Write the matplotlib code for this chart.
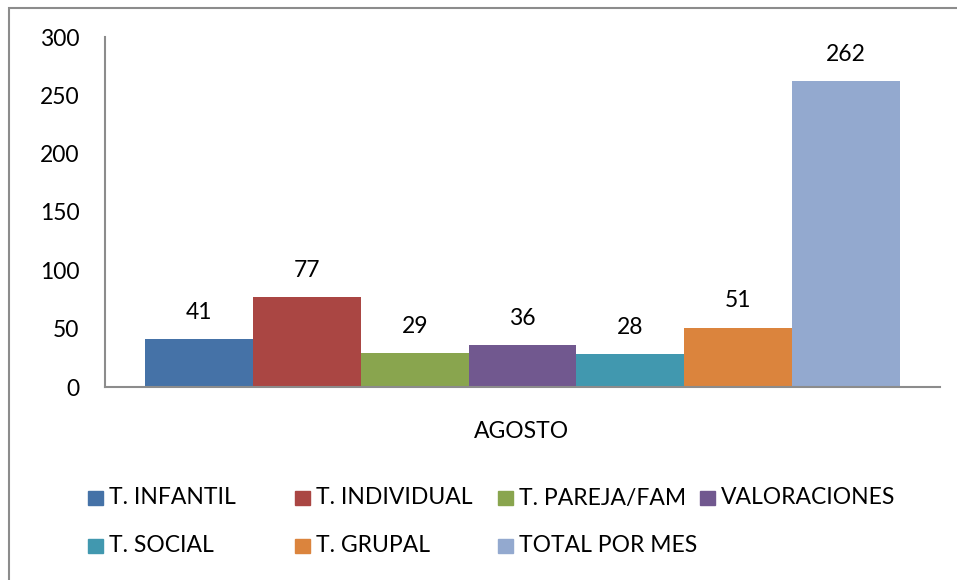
import matplotlib.pyplot as plt
from matplotlib.patches import Rectangle

series = ["T. INFANTIL", "T. INDIVIDUAL", "T. PAREJA/FAM", "VALORACIONES",
          "T. SOCIAL", "T. GRUPAL", "TOTAL POR MES"]
values = [41, 77, 29, 36, 28, 51, 262]
colors = ["#4572A7", "#AA4643", "#89A54E", "#71588F", "#4198AF", "#DB843D", "#93A9CF"]
category = "AGOSTO"
yticks = [0, 50, 100, 150, 200, 250, 300]

plt.rcParams['font.family'] = ['Lato', 'DejaVu Sans']
FS = 16.5

W, H = 957, 580
fig = plt.figure(figsize=(W / 100, H / 100), dpi=100)

# chart area border (runs off the right and bottom edges)
fig.patches.append(Rectangle((9 / W, 0 - 0.05), 1.2, 1 - 8 / H + 0.05,
                             transform=fig.transFigure, fill=False,
                             edgecolor="#8c8c8c", linewidth=1.5))

ax = fig.add_axes([105 / W, 1 - 387 / H, 835 / W, 350 / H])

n = len(values)
gap = 40 / 107.9  # side gap relative to bar width
for i, (v, c) in enumerate(zip(values, colors)):
    ax.bar(i, v, width=1.0, color=c)
    ax.text(i, v + 23, str(v), ha="center", va="center", fontsize=FS)

ax.set_xlim(-0.5 - gap, n - 0.5 + gap)
ax.set_ylim(0, 300)
ax.set_yticks(yticks)
ax.set_xticks([])
ax.tick_params(axis="y", length=0, pad=18.5, labelsize=FS)
for s in ["top", "right"]:
    ax.spines[s].set_visible(False)
for s in ["left", "bottom"]:
    ax.spines[s].set_color("#8c8c8c")
    ax.spines[s].set_linewidth(1.5)

fig.text(522 / W, 1 - 432 / H, category, ha="center", va="center", fontsize=FS)

# legend, laid out row by row like the original
col_x = [88, 295, 498, 700]
row_y = [498, 546]
for k, (name, c) in enumerate(zip(series, colors)):
    x0 = col_x[k % 4]
    y0 = row_y[k // 4]
    fig.patches.append(Rectangle((x0 / W, 1 - (y0 + 7) / H), 15 / W, 14 / H,
                                 transform=fig.transFigure, color=c))
    fig.text((x0 + 21) / W, 1 - y0 / H, name, ha="left", va="center", fontsize=FS)

fig.savefig("out.png", dpi=100)
